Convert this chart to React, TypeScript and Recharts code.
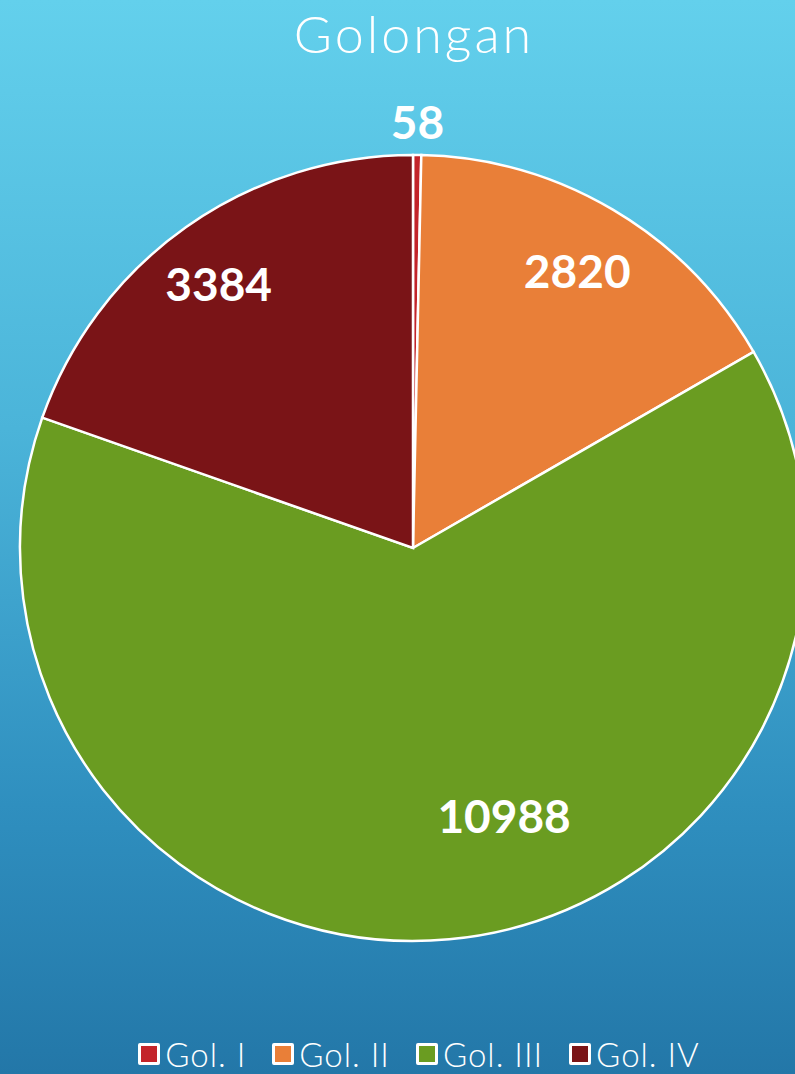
import { Cell, Legend, Pie, PieChart } from 'recharts'

const categories = ['Gol. I', 'Gol. II', 'Gol. III', 'Gol. IV']
const counts = [58, 2820, 10988, 3384]
const colors = ['#c3242a', '#e97f38', '#6a9c21', '#7a1417']

// label placement tweaks (radius factor, angle shift in degrees)
const labelRadius = [1.085, 0.82, 0.72, 0.835]
const labelShift = [0, 0, 13.5, 1]

const data = categories.map((name, i) => ({ name, value: counts[i] }))

const RAD = Math.PI / 180
const font = 'Lato, "Open Sans", sans-serif'

function renderLabel(props: any) {
  const { cx, cy, midAngle, outerRadius, index, value } = props
  const r = outerRadius * labelRadius[index]
  const a = midAngle + labelShift[index]
  const x = cx + r * Math.cos(-a * RAD)
  const y = cy + r * Math.sin(-a * RAD)
  return (
    <text x={x} y={y} fill="#fff" textAnchor="middle" dominantBaseline="central" fontSize={46} fontWeight={700} fontFamily={font}>
      {value}
    </text>
  )
}

function LegendRow() {
  return (
    <div style={{ display: 'flex', justifyContent: 'center', gap: 26, fontFamily: font, fontWeight: 300, fontSize: 33, color: '#fff', lineHeight: '34px' }}>
      {categories.map((c, i) => (
        <div key={c} style={{ display: 'flex', alignItems: 'center', gap: 5 }}>
          <span style={{ width: 16, height: 16, background: colors[i], border: '3px solid #fff', borderRadius: 2, display: 'inline-block' }} />
          <span style={{ letterSpacing: 1 }}>{c}</span>
        </div>
      ))}
    </div>
  )
}

export default function App() {
  return (
    <div
      style={{
        position: 'absolute',
        left: 0,
        top: 0,
        width: 795,
        height: 1074,
        overflow: 'hidden',
        background: 'linear-gradient(to bottom, #63d0ec 0%, #4bb4d9 40%, #2f8fbf 75%, #2377a8 100%)',
      }}
    >
      <svg width={795} height={80} style={{ position: 'absolute', top: 0, left: 0 }}>
        <text x={414} y={53} textAnchor="middle" fill="#fff" fontFamily={font} fontWeight={300} fontSize={52} letterSpacing={3}>
          Golongan
        </text>
      </svg>
      <PieChart width={795} height={1074} margin={{ top: 0, right: 0, bottom: 0, left: 0 }}>
        <Pie
          data={data}
          dataKey="value"
          nameKey="name"
          cx={413}
          cy={548}
          outerRadius={393}
          startAngle={90}
          endAngle={-270}
          stroke="#fff"
          strokeWidth={2.5}
          label={renderLabel}
          labelLine={false}
          isAnimationActive={false}
        >
          {data.map((d, i) => (
            <Cell key={d.name} fill={colors[i]} />
          ))}
        </Pie>
        <Legend content={<LegendRow />} wrapperStyle={{ position: 'absolute', top: 1037, left: 0, width: 838 }} />
      </PieChart>
    </div>
  )
}
